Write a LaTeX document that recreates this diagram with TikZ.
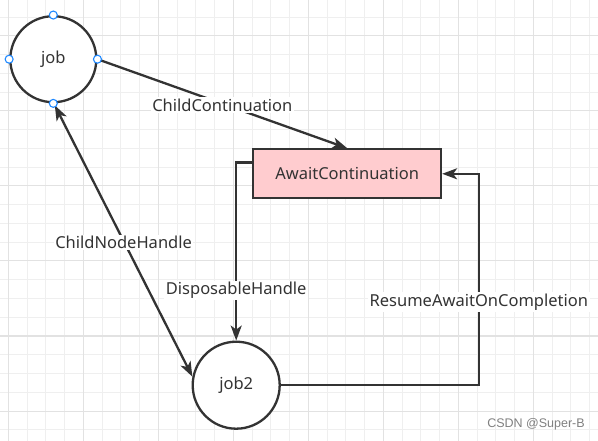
\documentclass[tikz,border=0pt]{standalone}
\usepackage{fontspec}
\setmainfont{Noto Sans}
\newfontfamily\wmfont{Liberation Sans}
\usetikzlibrary{arrows.meta,calc}
\definecolor{ink}{HTML}{333333}
\definecolor{pinkfill}{HTML}{FFCCCF}
\definecolor{gridminor}{HTML}{EFEFEF}
\definecolor{gridmajor}{HTML}{E2E2E2}
\definecolor{handle}{HTML}{1E88FF}
\tikzset{
  jobnode/.style={circle, draw=ink, line width=2.3pt, fill=white, inner sep=0pt, text=ink, font=\fontsize{16.5}{19}\selectfont},
  boxnode/.style={rectangle, draw=ink, line width=2.2pt, fill=pinkfill, inner sep=0pt, text=ink, font=\fontsize{16.5}{19}\selectfont},
  conn/.style={draw=ink, line width=2.3pt, -{Stealth[length=15pt,width=11pt,inset=4pt]}},
  conn2/.style={draw=ink, line width=2.3pt, {Stealth[length=15pt,width=11pt,inset=4pt]}-{Stealth[length=15pt,width=11pt,inset=4pt]}},
  lbl/.style={fill=white, inner sep=1.5pt, text=ink, yshift=-1.5pt, font=\fontsize{16.5}{19}\selectfont},
  handlenode/.style={circle, draw=handle, fill=white, line width=1.1pt, minimum size=8pt, inner sep=0pt}
}
\begin{document}
\begin{tikzpicture}[x=1pt,y=-1pt]
\useasboundingbox (0,0) rectangle (598,441);
\fill[white] (0,0) rectangle (598,441);
% grid
\foreach \k in {0,...,31} {
  \pgfmathsetmacro{\xx}{8.3+18.75*\k}
  \draw[gridminor, line width=1pt] (\xx,0) -- (\xx,441);
}
\foreach \k in {-1,...,23} {
  \pgfmathsetmacro{\yy}{17.25+18.75*\k}
  \draw[gridminor, line width=1pt] (0,\yy) -- (598,\yy);
}
\foreach \k in {0,...,7} {
  \pgfmathsetmacro{\xx}{8.3+75*\k}
  \draw[gridmajor, line width=1pt] (\xx,0) -- (\xx,441);
}
\foreach \k in {0,...,5} {
  \pgfmathsetmacro{\yy}{36+75*\k}
  \draw[gridmajor, line width=1pt] (0,\yy) -- (598,\yy);
}
% nodes
\node[jobnode, minimum size=86pt] (job) at (53.3,59.2) {job};
\node[jobnode, minimum size=87pt] (job2) at (236.2,385.2) {job2};
\node[boxnode, minimum width=187.7pt, minimum height=49pt] (box) at (347.2,173.8) {AwaitContinuation};
% connectors
\draw[conn] (job.east) -- (box.north)
  node[lbl, pos=0.5] (lcc) {ChildContinuation};
\draw[conn2] ($(job.south)+(1.5,2)$) -- (job2.169)
  node[lbl, pos=0.5] (lcnh) {ChildNodeHandle};
\coordinate (dstart) at ($(box.north west)!0.28!(box.south west)$);
\draw[conn] (dstart) -| (job2.north)
  node[lbl, pos=0.855] (ldh) {DisposableHandle};
\draw[conn] (job2.east) -- ++(198,0) coordinate (rc) |- (box.east)
  node[lbl, pos=0.2] (lra) {ResumeAwaitOnCompletion};
% handles
\node[handlenode] (h1) at (job.north) {};
\node[handlenode] (h2) at (job.west) {};
\node[handlenode] (h3) at (job.east) {};
\node[handlenode] (h4) at (job.south) {};
% watermark
\node[text=black!50, font=\wmfont\fontsize{12.5}{14}\selectfont, inner sep=0pt] (wm) at (536,424) {CSDN @Super-B};
\end{tikzpicture}
\end{document}
